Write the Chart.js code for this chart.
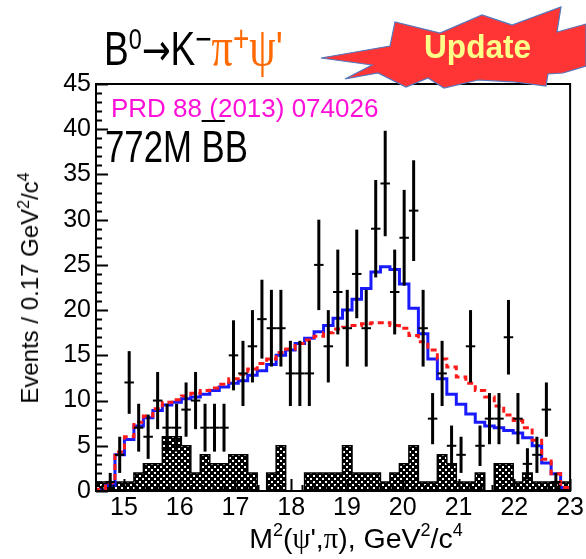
<!DOCTYPE html>
<html>
<head>
<meta charset="utf-8">
<script src="https://cdn.jsdelivr.net/npm/chart.js@4.4.1/dist/chart.umd.min.js"></script>
<style>
  html, body { margin: 0; padding: 0; background: #fff; }
  #wrap { position: relative; width: 586px; height: 559px; overflow: hidden;
          font-family: "Liberation Sans", Arial, sans-serif; color: #000; }
  #wrap canvas { position: absolute; left: 0; top: 0; }
  #burst { position: absolute; left: 0; top: 0; }
  .txt { position: absolute; white-space: nowrap; line-height: 1; }
  .txt sup { position: relative; vertical-align: baseline; line-height: 0; }
  .greek { font-family: "Liberation Serif", "DejaVu Serif", serif; }
  .arrow { font-family: "DejaVu Sans", sans-serif; font-size: 44px; }
  .orange { color: #ff6a00; }

  #title { left: 104px; top: 19.6px; font-size: 47.5px; transform: scaleX(0.78); transform-origin: 0 0; }
  #title sup { font-size: 30px; top: -16px; }
  #title sup.wide { font-size: 36px; top: -14px; }
  #title .greek { font-size: 54px; }
  #update { left: 424px; top: 29px; font-size: 34px; font-weight: bold; color: #fcff88;
            transform: scaleX(0.93); transform-origin: 0 0; }
  #ref { left: 111px; top: 95px; font-size: 26px; color: #ff10d8; }
  #lumi { left: 105px; top: 124.5px; font-size: 44px; transform: scaleX(0.79); transform-origin: 0 0; }
  #lumi .bar { text-decoration: overline; text-decoration-thickness: 2px; }
  #ytitle { left: 29.5px; top: 288px; font-size: 24px; transform: translate(-50%, -50%) rotate(-90deg); }
  #ytitle sup { font-size: 16px; top: -9px; }
  #xtitle { left: 356px; top: 524px; font-size: 28.5px; transform: translateX(-50%); }
  #xtitle sup { font-size: 18px; top: -12px; }
</style>
</head>
<body>
<div id="wrap">
  <canvas id="massChart" width="586" height="559"></canvas>
  <svg id="burst" width="586" height="100">
    <polygon points="321,58 390,46 395,22 440,33 482,15 512,25 561,7 557,32 586,24 586,66 563,73 548,74 546,86 515,82 478,80 444,88 428,78 406,87 378,73 345,79 372,65"
             fill="#ff3535" stroke="#5577bb" stroke-width="1.2"/>
  </svg>
  <div class="txt" id="title">B<sup>0</sup><span class="arrow">→</span>K<sup class="wide">−</sup><span class="orange"><span class="greek">π</span><sup class="wide">+</sup><span class="greek">ψ</span>'</span></div>
  <div class="txt" id="update">Update</div>
  <div class="txt" id="ref">PRD 88 (2013) 074026</div>
  <div class="txt" id="lumi">772M <span class="bar">B</span>B</div>
  <div class="txt" id="ytitle">Events / 0.17 GeV<sup>2</sup>/c<sup>4</sup></div>
  <div class="txt" id="xtitle">M<sup>2</sup>(<span class="greek">ψ</span>',<span class="greek">π</span>), GeV<sup>2</sup>/c<sup>4</sup></div>
</div>
<script>
// M^2(psi', pi) histogram binning
const histLow = 14.5;
const binWidth = 0.17;

// events per bin (null = empty bin, no marker)
const dataCounts = [null, 1, 4, 12, 7, 6, 10, 7, 7, 9, 10, 7, 7, 7, 15, 13, 16, 19, 18, 18,
                    13, 13, 13, 25, 16, 22, 18, 24, 18, 29, 34, 22, 28, 31, 18, 8, 13, 5, 4, 16,
                    5, 8, 8, 17, 8, 3, 4, 9, 1, null];

// fit with the resonance (blue)
const fitWithZ = [0.1, 0.6, 4.0, 5.7, 7.2, 8.1, 8.9, 9.5, 9.8, 10.2, 10.4, 10.7, 11.1, 11.5, 11.9, 12.2, 12.8, 13.3, 14.0, 15.0,
                  15.6, 16.3, 16.9, 17.6, 18.3, 19.1, 20.0, 21.2, 22.4, 24.2, 24.8, 24.5, 22.9, 20.2, 17.4, 14.6, 12.4, 10.7, 9.6, 8.5,
                  7.6, 7.2, 7.0, 6.7, 6.4, 5.9, 5.0, 3.1, 1.9, 0.4];

// fit without the resonance (red dashed)
const fitNoZ = [0.2, 0.9, 4.3, 6.0, 7.6, 8.3, 9.1, 9.8, 10.1, 10.5, 10.8, 11.1, 11.4, 11.8, 12.4, 12.9, 13.5, 14.1, 14.6, 15.3,
                15.7, 16.3, 16.7, 17.1, 17.5, 17.9, 18.1, 18.3, 18.5, 18.6, 18.6, 18.3, 18.0, 17.2, 16.5, 15.6, 14.6, 13.7, 12.6, 11.9,
                11.1, 10.4, 9.4, 8.4, 7.8, 7.0, 5.6, 3.5, 1.9, 0.4];

// sideband background (hatched)
const sideband = [1, 1, 1, 1, 2, 3, 3, 6, 6, 5, 2, 4, 3, 3, 4, 4, 2, 0, 2, 5,
                  0, 0, 2, 2, 2, 2, 5, 2, 2, 2, 1, 2, 3, 5, 1, 1, 4, 3, 1, 1,
                  2, 0, 3, 3, 1, 2, 1, 1, 1, 1];

const xTickValues = [15, 16, 17, 18, 19, 20, 21, 22, 23];
const yTickValues = [0, 5, 10, 15, 20, 25, 30, 35, 40, 45];

const nBins = dataCounts.length;
const histHigh = histLow + nBins * binWidth;
const binEdge = i => histLow + i * binWidth;
const binCenter = i => histLow + (i + 0.5) * binWidth;

// outline of a histogram as step points, closed down to zero at both ends
function histPoints(values) {
    const pts = [{x: histLow, y: 0}];
    values.forEach((v, i) => pts.push({x: binEdge(i), y: v}));
    pts.push({x: histHigh, y: values[values.length - 1]});
    pts.push({x: histHigh, y: 0});
    return pts;
}

// black mesh with small white holes
function meshPattern() {
    const c = document.createElement('canvas');
    c.width = 6;
    c.height = 6;
    const g = c.getContext('2d');
    g.fillStyle = '#000';
    g.fillRect(0, 0, 6, 6);
    g.fillStyle = '#fff';
    g.fillRect(1, 1, 2, 2);
    g.fillRect(4, 4, 2, 2);
    return g.createPattern(c, 'repeat');
}

// data markers: sqrt(N) vertical error, bin-width horizontal bar
const errorBars = {
    id: 'errorBars',
    afterDatasetsDraw(chart) {
        const {ctx, scales: {x, y}} = chart;
        ctx.save();
        ctx.strokeStyle = '#000';
        dataCounts.forEach((n, i) => {
            if (n === null) return;
            const err = Math.sqrt(n);
            const px = x.getPixelForValue(binCenter(i));
            const py = y.getPixelForValue(n);
            ctx.lineWidth = 3;
            ctx.beginPath();
            ctx.moveTo(px, y.getPixelForValue(n - err));
            ctx.lineTo(px, y.getPixelForValue(n + err));
            ctx.stroke();
            ctx.lineWidth = 2;
            ctx.beginPath();
            ctx.moveTo(x.getPixelForValue(binEdge(i)), py);
            ctx.lineTo(x.getPixelForValue(binEdge(i + 1)), py);
            ctx.stroke();
        });
        ctx.restore();
    }
};

// frame with inward tick marks
const frameTicks = {
    id: 'frameTicks',
    afterDraw(chart) {
        const {ctx, chartArea: a, scales: {x, y}} = chart;
        ctx.save();
        ctx.strokeStyle = '#000';
        ctx.lineWidth = 2;
        ctx.beginPath();
        for (let v = 0; v <= 45; v++) {
            const py = Math.round(y.getPixelForValue(v)) + 0.5;
            ctx.moveTo(a.left, py);
            ctx.lineTo(a.left + (v % 5 === 0 ? 12 : 6), py);
        }
        for (let k = 73; k <= 115; k++) {
            const v = k / 5;
            const px = Math.round(x.getPixelForValue(v)) + 0.5;
            ctx.moveTo(px, a.bottom);
            ctx.lineTo(px, a.bottom - (k % 5 === 0 ? 12 : 6));
        }
        ctx.stroke();
        ctx.strokeRect(a.left, a.top, a.right - a.left, a.bottom - a.top);
        ctx.restore();
    }
};

const tickFont = {family: '"Liberation Sans", Arial, sans-serif', size: 25};

const ctx = document.getElementById('massChart').getContext('2d');
const massChart = new Chart(ctx, {
    type: 'line',
    data: {
        datasets: [{
            label: 'fit without resonance',
            data: histPoints(fitNoZ),
            stepped: true,
            borderColor: '#ff1a1a',
            borderWidth: 3,
            borderDash: [6, 4],
            pointRadius: 0,
            fill: false,
            order: 0
        }, {
            label: 'fit with resonance',
            data: histPoints(fitWithZ),
            stepped: true,
            borderColor: '#1a1aff',
            borderWidth: 3,
            pointRadius: 0,
            fill: false,
            order: 1
        }, {
            label: 'sideband',
            data: histPoints(sideband),
            stepped: true,
            borderColor: '#000',
            borderWidth: 1.5,
            backgroundColor: meshPattern(),
            pointRadius: 0,
            fill: 'origin',
            order: 2
        }]
    },
    options: {
        responsive: false,
        animation: false,
        layout: {padding: {left: 0, top: 84, right: 15, bottom: 0}},
        plugins: {legend: {display: false}, tooltip: {enabled: false}},
        scales: {
            x: {
                type: 'linear',
                min: histLow,
                max: histHigh,
                grid: {display: false, drawTicks: false},
                border: {display: false},
                ticks: {font: tickFont, color: '#000', padding: 2, maxRotation: 0, includeBounds: false},
                afterBuildTicks: s => { s.ticks = xTickValues.map(v => ({value: v})); },
                afterFit: s => { s.height = 68; }
            },
            y: {
                type: 'linear',
                min: 0,
                max: 45,
                grid: {display: false, drawTicks: false},
                border: {display: false},
                ticks: {font: tickFont, color: '#000', padding: 5},
                afterBuildTicks: s => { s.ticks = yTickValues.map(v => ({value: v})); },
                afterFit: s => { s.width = 96; }
            }
        }
    },
    plugins: [errorBars, frameTicks]
});
</script>
</body>
</html>
